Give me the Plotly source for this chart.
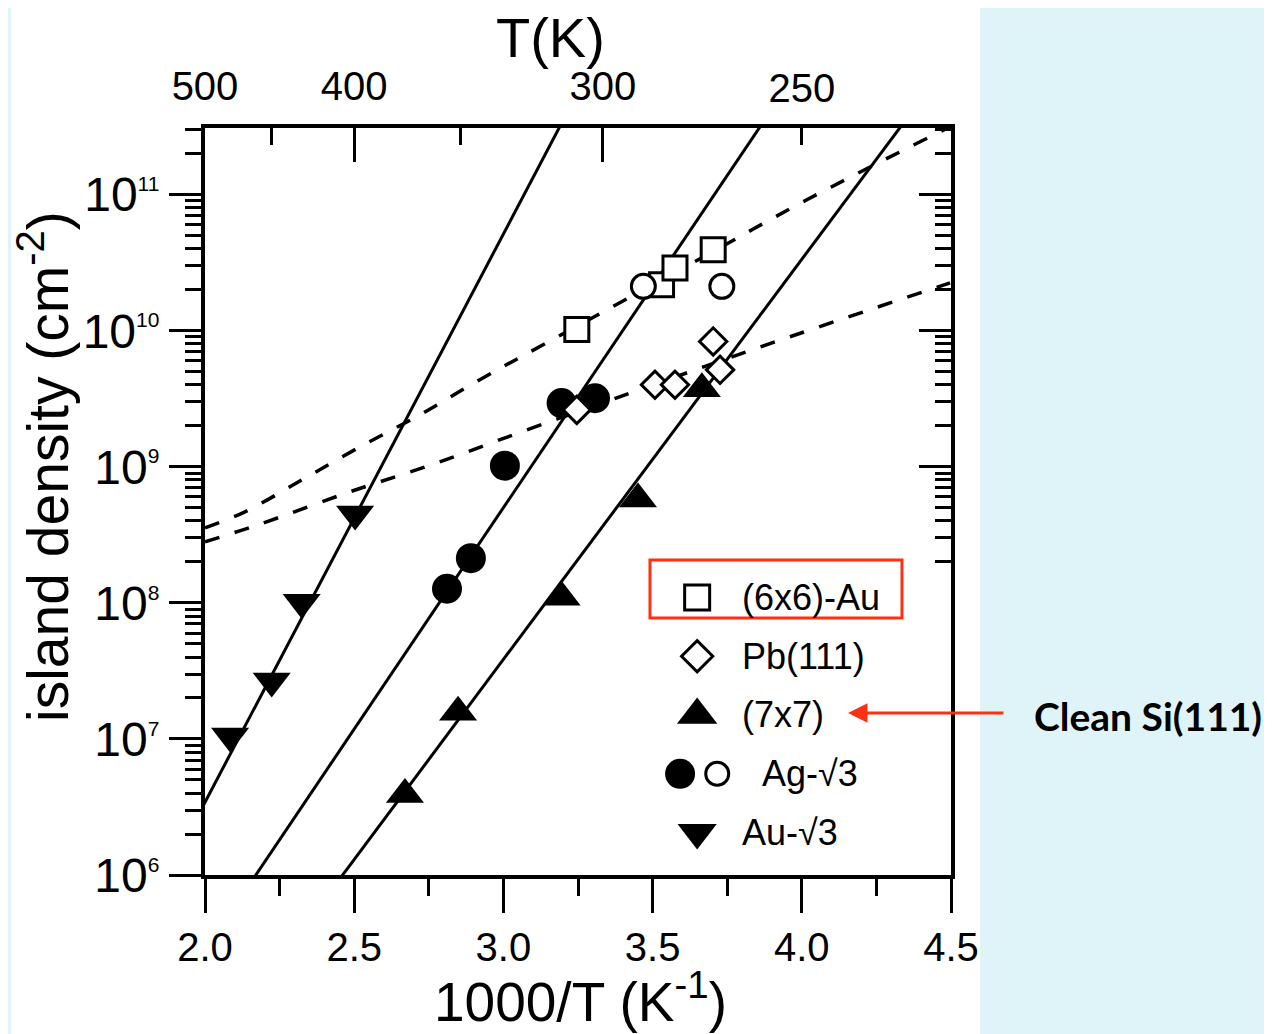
import plotly.graph_objects as go

# ---------------- data ----------------
# Au-sqrt3 (filled down triangles)
au3_x = [2.084, 2.2235, 2.324, 2.503]
au3_y = [1.05e7, 2.67e7, 1.01e8, 4.5e8]
# (7x7) clean Si(111) (filled up triangles)
si77_x = [2.670, 2.848, 3.195, 3.451, 3.665]
si77_y = [3.9e6, 1.57e7, 1.10e8, 5.8e8, 3.74e9]
# Ag-sqrt3 filled circles
agf_x = [2.811, 2.891, 3.005, 3.195, 3.307]
agf_y = [1.27e8, 2.13e8, 1.02e9, 2.94e9, 3.19e9]
# Ag-sqrt3 open circles
ago_x = [3.469, 3.732]
ago_y = [2.12e10, 2.12e10]
# (6x6)-Au open squares
au66_x = [3.246, 3.530, 3.575, 3.703]
au66_y = [1.02e10, 2.18e10, 2.89e10, 3.94e10]
# Pb(111) open diamonds
pb_x = [3.246, 3.508, 3.575, 3.703, 3.726]
pb_y = [2.62e9, 4.01e9, 4.01e9, 8.34e9, 5.16e9]

# solid fit lines (end points, clipped by the axes)
fit_au3_x = [1.9, 3.3]
fit_au3_y = [1.31e6, 9.2e11]
fit_ag_x = [2.1, 4.0]
fit_ag_y = [5.9e5, 9.0e11]
fit_77_x = [2.4, 4.5]
fit_77_y = [6.6e5, 9.9e11]

# dashed curves
dash_up_x = [2.000, 2.134, 2.325, 2.519, 2.720, 2.921, 3.133, 3.635, 4.017, 4.497]
dash_up_y = [3.56e8, 4.67e8, 8.02e8, 1.40e9, 2.41e9, 4.37e9, 7.89e9, 3.16e10, 9.18e10, 3.16e11]
dash_lo_x = [2.000, 2.178, 2.476, 2.777, 3.079, 3.380, 3.853, 4.497]
dash_lo_y = [2.81e8, 3.75e8, 6.44e8, 1.07e9, 1.87e9, 3.21e9, 7.50e9, 2.25e10]

# axes ticks
x_ticks = [2.0, 2.5, 3.0, 3.5, 4.0, 4.5]
x_minor = [2.25, 2.75, 3.25, 3.75, 4.25]
y_decades = [6, 7, 8, 9, 10, 11]
T_major = [500, 400, 300]
T_minor = [450, 350, 250]
T_extra_label = [250]

# legend
legend_labels = ["(6x6)-Au", "Pb(111)", "(7x7)", "Ag-\u221a3", "Au-\u221a3"]

BLACK = "black"
RED = "#ff2f12"
FONT = "Liberation Sans, Arial, Helvetica, sans-serif"

fig = go.Figure()

line_style = dict(color=BLACK, width=3)
for fx, fy in [(fit_au3_x, fit_au3_y), (fit_ag_x, fit_ag_y), (fit_77_x, fit_77_y)]:
    fig.add_trace(go.Scatter(x=fx, y=fy, mode="lines", line=line_style,
                             showlegend=False, hoverinfo="skip"))
for dx, dy in [(dash_up_x, dash_up_y), (dash_lo_x, dash_lo_y)]:
    fig.add_trace(go.Scatter(x=dx, y=dy, mode="lines",
                             line=dict(color=BLACK, width=3.5, dash="15px,16px", shape="spline"),
                             showlegend=False, hoverinfo="skip"))

def pts(x, y, symbol, size, filled, xa="x", ya="y"):
    if filled:
        mk = dict(symbol=symbol, size=size, color=BLACK, line=dict(width=0))
    else:
        mk = dict(symbol=symbol, size=size, color="white", line=dict(width=3, color=BLACK))
    return go.Scatter(x=x, y=y, mode="markers", marker=mk, showlegend=False,
                      xaxis=xa, yaxis=ya, cliponaxis=False, hoverinfo="skip")

fig.add_trace(pts(au3_x, au3_y, "triangle-down", 33, True))
fig.add_trace(pts(si77_x, si77_y, "triangle-up", 33, True))
fig.add_trace(pts(agf_x, agf_y, "circle", 30, True))
fig.add_trace(pts(pb_x, pb_y, "diamond", 21, False))
fig.add_trace(pts(au66_x, au66_y, "square", 24, False))
fig.add_trace(pts(ago_x, ago_y, "circle", 24, False))

# helper (invisible) traces so the top and right axes are rendered
fig.add_trace(go.Scatter(x=[1000 / t for t in T_major], y=[None] * len(T_major),
                         xaxis="x2", yaxis="y", mode="markers", showlegend=False,
                         hoverinfo="skip"))
fig.add_trace(go.Scatter(x=[1000 / t for t in T_extra_label], y=[None],
                         xaxis="x4", yaxis="y", mode="markers", showlegend=False,
                         hoverinfo="skip"))
fig.add_trace(go.Scatter(x=[None], y=[10 ** d for d in y_decades[:1]],
                         xaxis="x", yaxis="y2", mode="markers", showlegend=False,
                         hoverinfo="skip"))

# ---- legend key drawn on its own hidden axes (rows 0..4) ----
key_x = 47
fig.add_trace(pts([key_x], [0], "square", 25, False, "x3", "y3"))
fig.add_trace(pts([key_x], [1], "diamond", 24, False, "x3", "y3"))
fig.add_trace(pts([key_x], [2], "triangle-up", 35, True, "x3", "y3"))
fig.add_trace(pts([30], [3], "circle", 30, True, "x3", "y3"))
fig.add_trace(pts([67], [3], "circle", 23, False, "x3", "y3"))
fig.add_trace(pts([key_x], [4], "triangle-down", 34, True, "x3", "y3"))

annotations = []
for i, lab in enumerate(legend_labels):
    annotations.append(dict(x=110 if i == 3 else 90, y=i, xref="x3", yref="y3",
                            text=lab, showarrow=False, xanchor="left", yanchor="middle",
                            font=dict(family=FONT, size=36, color=BLACK)))

# titles
annotations.append(dict(x=0.5027, y=(875 - 998) / 747, xref="paper", yref="paper",
                        text="1000/T (K<sup>-1</sup>)", showarrow=False,
                        xanchor="center", yanchor="middle",
                        font=dict(family=FONT, size=55, color=BLACK)))
annotations.append(dict(x=0.4625, y=(875 - 37) / 747, xref="paper", yref="paper",
                        text="T(K)", showarrow=False, xanchor="center", yanchor="middle",
                        font=dict(family=FONT, size=56, color=BLACK)))
annotations.append(dict(x=(44 - 205) / 746, y=0.5462, xref="paper", yref="paper",
                        text="island density (cm<sup>-2</sup>)", showarrow=False,
                        textangle=-90, xanchor="center", yanchor="middle",
                        font=dict(family=FONT, size=57, color=BLACK)))
# side note with arrow
annotations.append(dict(x=0.8619, y=0.2169, xref="paper", yref="paper",
                        ax=157, ay=0, text="", showarrow=True, arrowhead=2,
                        arrowsize=1.3, arrowwidth=3, arrowcolor=RED))
annotations.append(dict(x=(1148 - 205) / 746, y=0.2129, xref="paper", yref="paper",
                        text="<b>Clean Si(111)</b>", showarrow=False,
                        xanchor="center", yanchor="middle",
                        font=dict(family="Lato, Open Sans, sans-serif", size=39, color=BLACK)))

shapes = [
    dict(type="rect", xref="paper", yref="paper", x0=-0.26, x1=1.0389, y0=-0.3, y1=1.1633,
         fillcolor="white", line=dict(width=0), layer="below"),
    dict(type="rect", xref="paper", yref="paper", x0=0.5965, x1=0.9343, y0=0.344, y1=0.4217,
         line=dict(color=RED, width=3), fillcolor="rgba(0,0,0,0)"),
]

y_minor = [k * 10 ** d for d in range(5, 12) for k in range(2, 10)]

axis_common = dict(showline=True, linewidth=4, linecolor=BLACK, showgrid=False,
                   zeroline=False, tickcolor=BLACK, tickwidth=3)

# the page body adds an 8px offset; size the figure so the plot lands where the reference has it
fig.update_layout(
    width=1264, height=1026,
    margin=dict(l=197, r=321, t=120, b=159),
    paper_bgcolor="#dff4f8", plot_bgcolor="white",
    font=dict(family=FONT, color=BLACK),
    showlegend=False,
    xaxis=dict(range=[2, 4.5], tickvals=x_ticks, ticktext=[f"{v:.1f}" for v in x_ticks],
               ticks="outside", ticklen=34,
               minor=dict(tickvals=x_minor, ticks="outside", ticklen=17, tickwidth=3, tickcolor=BLACK),
               tickfont=dict(size=40), mirror=False, **axis_common),
    xaxis2=dict(range=[2, 4.5], overlaying="x", side="top", anchor="y",
                tickvals=[1000 / t for t in T_major], ticktext=[str(t) for t in T_major],
                ticks="inside", ticklen=34, ticklabelstandoff=8,
                minor=dict(tickvals=[1000 / t for t in T_minor], ticks="inside", ticklen=17,
                           tickwidth=3, tickcolor=BLACK),
                tickfont=dict(size=40), **axis_common),
    xaxis4=dict(range=[2, 4.5], overlaying="x", side="top", anchor="y",
                tickvals=[1000 / t for t in T_extra_label], ticktext=[str(t) for t in T_extra_label],
                ticks="", showline=False, showgrid=False, zeroline=False,
                ticklabelstandoff=17, tickfont=dict(size=40)),
    yaxis=dict(type="log", range=[6, 11.49], tickvals=[10 ** d for d in y_decades],
               ticktext=[f"10<sup><span style='font-size:21px'>{d}</span></sup>" for d in y_decades],
               ticks="outside", ticklen=32,
               minor=dict(tickvals=y_minor, ticks="outside", ticklen=16, tickwidth=3, tickcolor=BLACK),
               tickfont=dict(size=48), mirror=False, **axis_common),
    yaxis2=dict(type="log", range=[6, 11.49], overlaying="y", side="right", anchor="x",
                tickvals=[10 ** d for d in y_decades], showticklabels=False,
                ticks="inside", ticklen=32,
                minor=dict(tickvals=y_minor, ticks="inside", ticklen=16, tickwidth=3, tickcolor=BLACK),
                **axis_common),
    xaxis3=dict(domain=[0.5965, 1.0], range=[0, 300], visible=False, anchor="y3"),
    yaxis3=dict(domain=[0.0174, 0.411], range=[4.5, -0.5], visible=False, anchor="x3"),
    annotations=annotations,
    shapes=shapes,
)

fig.write_html("out.html")
